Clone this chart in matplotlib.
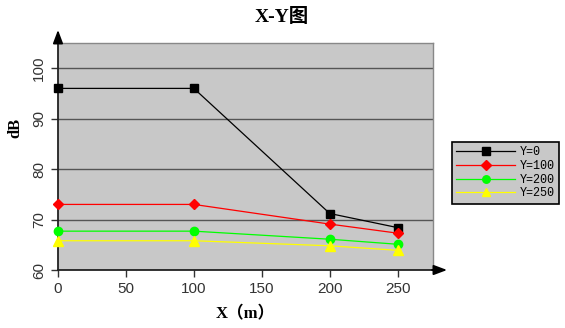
import matplotlib
matplotlib.use("Agg")
import matplotlib.pyplot as plt

x = [0, 100, 200, 250]
series_names = ["Y=0", "Y=100", "Y=200", "Y=250"]
y0 = [96.0, 96.0, 71.2, 68.4]
y100 = [73.0, 73.0, 69.1, 67.3]
y200 = [67.7, 67.7, 66.1, 65.1]
y250 = [65.8, 65.8, 64.8, 63.9]
xticks = [0, 50, 100, 150, 200, 250]
yticks = [60, 70, 80, 90, 100]

plt.rcParams['font.family'] = ['Liberation Sans', 'Noto Sans CJK SC']

fig = plt.figure(figsize=(5.65, 3.28), dpi=100)
ax = fig.add_axes([58/565, 1-270/328, (433-58)/565, (270-43)/328])
ax.set_facecolor('#c8c8c8')

styles = [
    dict(color='black', marker='s', ms=6, mfc='black', mec='black'),
    dict(color='#ff0000', marker='D', ms=5.5, mfc='#ff0000', mec='#ff0000'),
    dict(color='#00ff00', marker='o', ms=6, mfc='#00ff00', mec='#00ff00'),
    dict(color='#ffff00', marker='^', ms=7, mfc='#ffff00', mec='#ffff00'),
]
for ys, name, st in zip([y0, y100, y200, y250], series_names, styles):
    ax.plot(x, ys, lw=0.9, label=name, clip_on=False, zorder=3, **st)

ax.set_xlim(0, 276)
ax.set_ylim(60, 105)
ax.set_xticks(xticks)
ax.set_yticks(yticks)
ax.grid(axis='y', color='#555555', lw=1)
ax.tick_params(axis='both', direction='out', length=5, width=1, color='#333333',
               labelsize=11, labelcolor='#333333')
for lab in ax.get_yticklabels():
    lab.set_rotation(90)
    lab.set_va('center')

for s in ['top', 'right']:
    ax.spines[s].set_color('#888888')
    ax.spines[s].set_linewidth(1)
ax.spines['left'].set_color('#222222')
ax.spines['bottom'].set_color('#222222')
ax.spines['left'].set_linewidth(1.3)
ax.spines['bottom'].set_linewidth(1.3)

# axis arrows
ax.annotate('', xy=(0, 1.07), xytext=(0, 0.99), xycoords='axes fraction',
            arrowprops=dict(arrowstyle='-|>,head_length=0.8,head_width=0.3', color='black', lw=1.3),
            annotation_clip=False)
ax.annotate('', xy=(1.045, 0), xytext=(0.99, 0), xycoords='axes fraction',
            arrowprops=dict(arrowstyle='-|>,head_length=0.8,head_width=0.3', color='black', lw=1.3),
            annotation_clip=False)

fig.text(282/565, 1-17/328, 'X-Y图', ha='center', va='center', fontsize=14, fontweight='bold',
         family=['Liberation Serif', 'Noto Sans CJK SC'])
fig.text(245/565, 1-314/328, 'X（m）', ha='center', va='center', fontsize=12, fontweight='bold',
         family=['Liberation Serif', 'Noto Sans CJK SC'])
fig.text(15/565, 1-128/328, 'dB', ha='center', va='center', fontsize=12, fontweight='bold',
         rotation=90, family=['Liberation Serif', 'Noto Sans CJK SC'])

leg = fig.legend(loc='upper left', bbox_to_anchor=(452/565, 1-142/328), frameon=True,
                 fancybox=False, edgecolor='black', facecolor='#c8c8c8', framealpha=1,
                 handlelength=5.0, borderpad=0.35, labelspacing=0.15,
                 handletextpad=0.4, borderaxespad=0, markerscale=0.9,
                 prop={'family': ['Liberation Mono'], 'size': 8.5})
leg.get_frame().set_linewidth(1.2)

fig.savefig('out.png', dpi=100)
